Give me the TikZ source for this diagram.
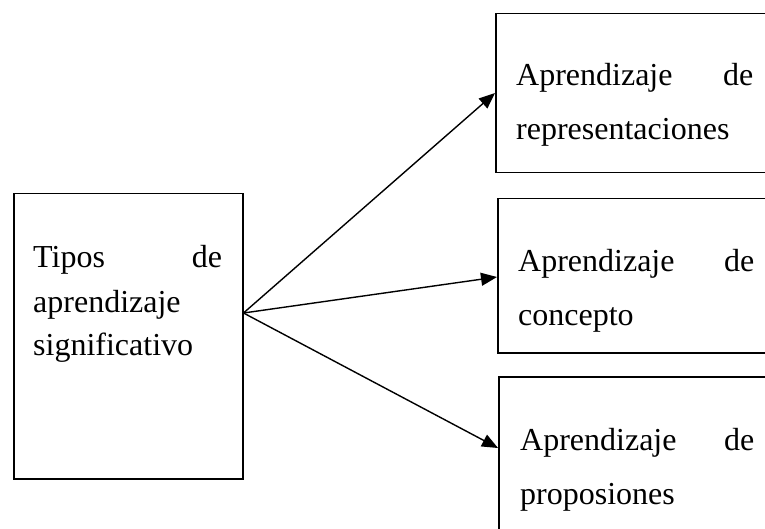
\documentclass[tikz,border=0pt]{standalone}
\usepackage{fontspec}
\setmainfont{Liberation Serif}
\usetikzlibrary{arrows.meta}
\begin{document}
\begin{tikzpicture}[x=1pt,y=-1pt,
  boxnode/.style={draw=black,line width=1.5pt,rectangle,inner sep=0pt,anchor=north west},
  txt/.style={anchor=base west,inner sep=0pt,align=left,font=\fontsize{32}{54}\selectfont},
  conn/.style={line width=1.4pt,-{Triangle[length=16pt,width=13pt]}}]
\useasboundingbox (0,0) rectangle (765,529);
\clip (0,0) rectangle (765,529);
\fill[white] (0,0) rectangle (765,529);
% boxes
\node[boxnode,minimum width=229pt,minimum height=285pt] (L) at (13,193) {};
\node[boxnode,minimum width=290pt,minimum height=159pt] (R1) at (495,13) {};
\node[boxnode,minimum width=290pt,minimum height=154pt] (R2) at (497,198) {};
\node[boxnode,minimum width=290pt,minimum height=170pt] (R3) at (498,376) {};
% texts
\node[txt,text width=189pt,font=\fontsize{32}{44}\selectfont] (tL) at (33,268) {Tipos \hfill de\\aprendizaje\\significativo};
\node[txt,text width=237pt] (t1) at (516,86) {Aprendizaje \hfill de\\representaciones};
\node[txt,text width=236pt] (t2) at (518,271) {Aprendizaje \hfill de\\concepto};
\node[txt,text width=234pt] (t3) at (520,450) {Aprendizaje \hfill de\\proposiones};
% connectors
\coordinate (src) at (L.east |- 0,313);
\draw[conn] (src) -- (R1.west |- 0,93);
\draw[conn] (src) -- (R2.west |- 0,277);
\draw[conn] (src) -- (R3.west |- 0,448);
\end{tikzpicture}
\end{document}
